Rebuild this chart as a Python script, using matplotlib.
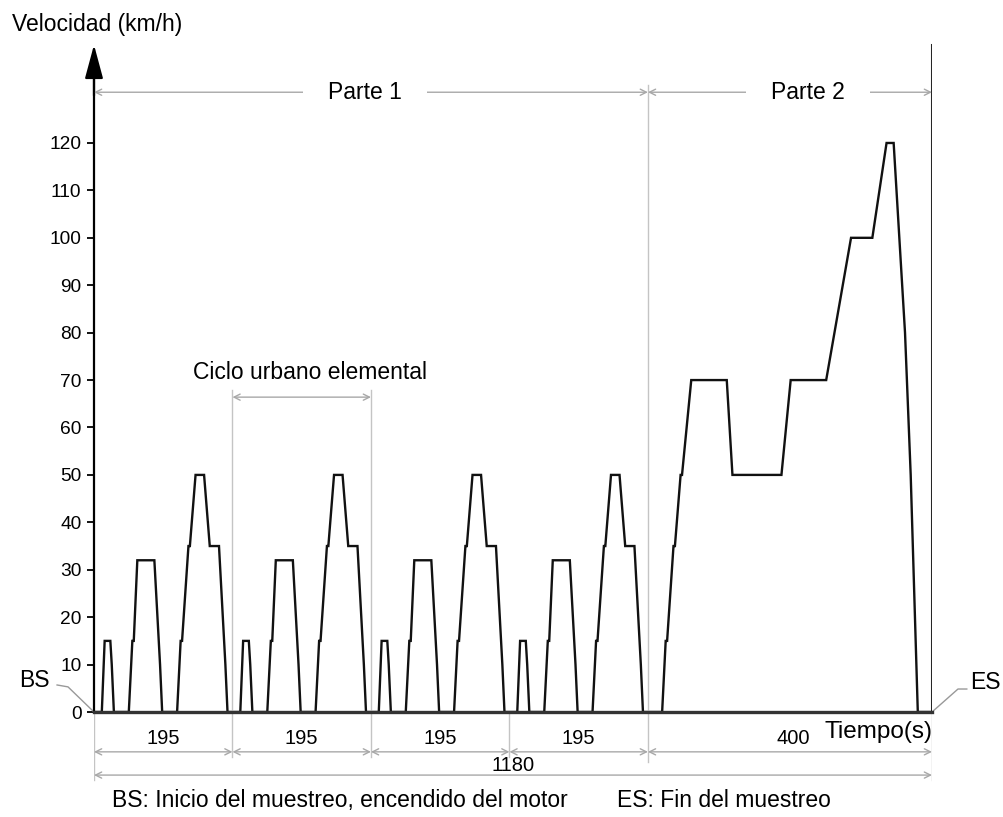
import matplotlib
matplotlib.use("Agg")
import matplotlib.pyplot as plt
import numpy as np

plt.rcParams["font.family"] = ["Liberation Sans", "DejaVu Sans"]
plt.rcParams["font.size"] = 16.5

# ECE-15 elementary urban cycle (195 s): knots of time (s) and speed (km/h)
ece_t = [0, 11, 15, 23, 25, 28, 49, 54, 56, 61, 85, 93, 96, 117, 122, 124,
         133, 135, 143, 155, 163, 176, 185, 188, 195]
ece_v = [0, 0, 15, 15, 10, 0, 0, 15, 15, 32, 32, 10, 0, 0, 15, 15,
         35, 35, 50, 50, 35, 35, 10, 0, 0]

# EUDC extra-urban cycle (400 s)
eudc_t = [0, 20, 25, 27, 36, 38, 46, 48, 61, 111, 119, 188, 201, 251, 286,
          316, 336, 346, 362, 370, 380, 400]
eudc_v = [0, 0, 15, 15, 35, 35, 50, 50, 70, 70, 50, 50, 70, 70, 100,
          100, 120, 120, 80, 50, 0, 0]

n_ece = 4
segment_bounds = [0, 195, 390, 585, 780, 1180]
y_ticks = list(range(0, 130, 10))

# build full profile
t_all, v_all = [], []
for k in range(n_ece):
    t_all += [t + 195 * k for t in ece_t]
    v_all += ece_v
t_all += [t + 195 * n_ece for t in eudc_t]
v_all += eudc_v

fig = plt.figure(figsize=(10.04, 8.17), dpi=100)
ax = fig.add_axes([94 / 1004, 0, 838 / 1004, 1])
ax.set_xlim(0, 1180)
ax.set_ylim(-22.14, 150.15)

for s in ["top", "right"]:
    ax.spines[s].set_visible(False)
ax.spines["bottom"].set_position(("data", 0))
ax.spines["bottom"].set_linewidth(2.4)
ax.spines["bottom"].set_color("#333333")
ax.spines["left"].set_bounds(0, 136)
ax.spines["left"].set_linewidth(1.6)
ax.set_xticks([])
ax.set_yticks(y_ticks)
ax.tick_params(axis="y", length=5, width=1.3, pad=4, labelsize=13.8)

light = "#c4c4c4"
arr = dict(arrowstyle="<->", color="#a8a8a8", lw=1.0, mutation_scale=11,
           shrinkA=0, shrinkB=0)

# y axis arrow head
ax.annotate("", xy=(0, 140.7), xytext=(0, 130),
            arrowprops=dict(arrowstyle="-|>,head_length=1.3,head_width=0.35",
                            color="black", lw=1.6, mutation_scale=16,
                            shrinkA=0, shrinkB=0))

# right border line
ax.plot([1180, 1180], [0, 140.7], color="#262626", lw=2.2)

# speed trace
ax.plot(t_all, v_all, color="#111111", lw=1.7, solid_joinstyle="miter")

# gray construction lines
ax.plot([195, 195], [67.9, -9.5], color=light, lw=1)
ax.plot([390, 390], [67.9, -9.5], color=light, lw=1)
ax.plot([585, 585], [0, -9.5], color=light, lw=1)
ax.plot([780, 780], [132.2, -10.5], color=light, lw=1)
ax.plot([0, 0], [0, -14.3], color=light, lw=1)
ax.plot([1180, 1180], [0, -14.3], color=light, lw=1)

# Parte 1 / Parte 2
ax.annotate("", xy=(0, 130.7), xytext=(780, 130.7), arrowprops=arr)
ax.annotate("", xy=(780, 130.7), xytext=(1180, 130.7), arrowprops=arr)
box = dict(boxstyle="square,pad=1.1", facecolor="white", edgecolor="none")
ax.text(382, 130.7, "Parte 1", ha="center", va="center", bbox=box)
ax.text(1005, 130.7, "Parte 2", ha="center", va="center", bbox=box)

# elementary urban cycle bracket
ax.annotate("", xy=(195, 66.4), xytext=(390, 66.4), arrowprops=arr)
ax.text(139, 71.5, "Ciclo urbano elemental", ha="left", va="center")

# bottom dimension lines
for a, b in zip(segment_bounds[:-1], segment_bounds[1:]):
    ax.annotate("", xy=(a, -8.4), xytext=(b, -8.4), arrowprops=arr)
    xm = (a + b) / 2 if b - a < 300 else (a + b) / 2 + 5
    ax.text(xm, -5.5, f"{b - a}", ha="center", va="center", fontsize=14.5)
ax.annotate("", xy=(0, -13.3), xytext=(1180, -13.3), arrowprops=arr)
ax.text(590, -11.2, f"{segment_bounds[-1]}", ha="center", va="center",
        fontsize=14.5)

ax.text(1181, -4.2, "Tiempo(s)", ha="right", va="center", fontsize=17.5)
ax.text(-115.5, 144.9, "Velocidad (km/h)", ha="left", va="center")

# BS / ES leaders
ax.plot([-52, -36.6, 0], [5.7, 5.3, 0], color="#999999", lw=1, clip_on=False)
ax.text(-62, 6.7, "BS", ha="right", va="center")
ax.plot([1180, 1216.6, 1229], [0, 4.85, 4.85], color="#999999", lw=1,
        clip_on=False)
ax.text(1233.5, 6.3, "ES", ha="left", va="center")

ax.text(25, -18.6, "BS: Inicio del muestreo, encendido del motor",
        ha="left", va="center")
ax.text(736, -18.6, "ES: Fin del muestreo", ha="left", va="center")

fig.savefig("out.png", dpi=100)
